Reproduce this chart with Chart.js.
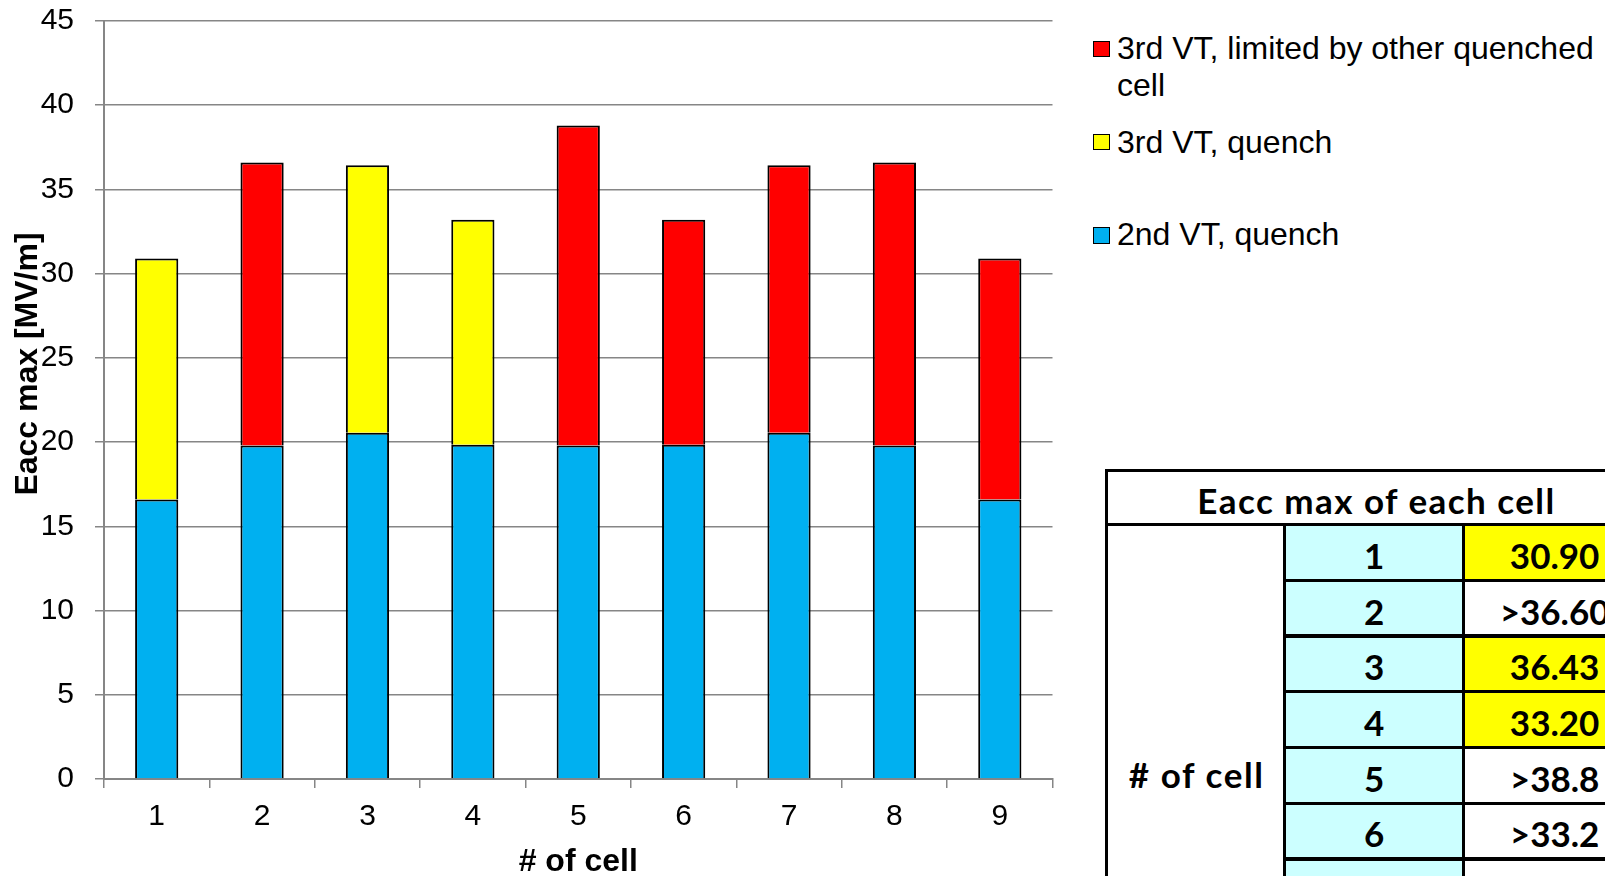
<!DOCTYPE html>
<html><head><meta charset="utf-8">
<script src="https://cdn.jsdelivr.net/npm/chart.js@4.4.0/dist/chart.umd.min.js"></script>
<style>
html,body{margin:0;padding:0;background:#fff;width:1605px;height:876px;overflow:hidden;position:relative;}
#wrap{position:absolute;left:0;top:0;width:1070px;height:876px;}
.lg{position:absolute;left:1117px;font-family:'Liberation Sans',Arial,sans-serif;font-size:32px;line-height:37.4px;color:#000;width:488px;white-space:normal;}
.lgbox{position:absolute;left:1093px;width:14.5px;height:14.5px;border:1.5px solid #000;}
.tl{position:absolute;background:#000;}
.tf{position:absolute;}
.tt{position:absolute;font-family:Lato,'Noto Sans',sans-serif;font-weight:bold;font-size:35px;line-height:1.2;color:#000;text-align:center;white-space:nowrap;}
</style></head><body>
<div id="wrap"><canvas id="c"></canvas></div>
<div id="legend"></div>
<div id="table"></div>
<script>
// ---- data ----
const categories = ['1','2','3','4','5','6','7','8','9'];
const blueVals   = [16.6, 19.8, 20.55, 19.85, 19.8, 19.85, 20.55, 19.8, 16.6];
const yellowVals = [14.3, null, 15.88, 13.35, null, null, null, null, null];
const redVals    = [null, 16.8, null, null, 19.0, 13.35, 15.88, 16.8, 14.3];
const seriesLabels = ['2nd VT, quench', '3rd VT, quench', '3rd VT, limited by other quenched cell'];
const yMin = 0, yMax = 45, yStep = 5;
const xTitle = '# of cell';
const yTitle = 'Eacc max [MV/m]';
const tableTitle = 'Eacc max of each cell';
const tableRowHeader = '# of cell';
const tableCells  = ['1','2','3','4','5','6','7','8','9'];
const tableValues = ['30.90','>36.60','36.43','33.20','>38.8','>33.2','>36.4','>36.6','>30.9'];
const tableYellow = [true,false,true,true,false,false,false,false,false];

// ---- styles ----
const colors = ['#00B0F0','#FFFF00','#FF0000'];
const FONT = "'Liberation Sans', Arial, sans-serif";
Chart.defaults.font.family = FONT;
Chart.defaults.color = '#000';

const yTitlePlugin = {
  id: 'ytitle',
  afterDraw(chart) {
    const ctx = chart.ctx;
    ctx.save();
    ctx.translate(28, 364);
    ctx.rotate(-Math.PI / 2);
    ctx.font = 'bold 32px ' + FONT;
    ctx.fillStyle = '#000';
    ctx.textAlign = 'center';
    ctx.textBaseline = 'middle';
    ctx.fillText(yTitle, 0, 0);
    ctx.restore();
  }
};

const mk = (i, data) => ({
  label: seriesLabels[i], data, backgroundColor: colors[i], borderColor: '#000',
  borderWidth: 2, barPercentage: 0.41, categoryPercentage: 1.0, stack: 's'
});

new Chart(document.getElementById('c'), {
  type: 'bar',
  data: { labels: categories, datasets: [mk(0, blueVals), mk(1, yellowVals), mk(2, redVals)] },
  options: {
    responsive: true, maintainAspectRatio: false, animation: false,
    layout: { padding: { top: 21, right: 17.5, left: 0, bottom: 0 } },
    plugins: { legend: { display: false }, tooltip: { enabled: false } },
    scales: {
      x: {
        stacked: true,
        grid: { drawOnChartArea: false, drawTicks: true, tickLength: 9, color: '#868686', lineWidth: 1.5, offset: true },
        border: { display: true, color: '#868686', width: 2 },
        ticks: { font: { size: 30 }, padding: 11, color: '#000' },
        title: { display: true, text: xTitle, font: { size: 32, weight: 'bold', lineHeight: 0.85 }, padding: 0, color: '#000' },
        afterFit(s) { s.height = 97; }
      },
      y: {
        stacked: true, min: yMin, max: yMax,
        grid: { color: '#868686', lineWidth: 1.5, tickLength: 9 },
        border: { display: true, color: '#868686', width: 2 },
        ticks: { stepSize: yStep, font: { size: 30 }, padding: 21, color: '#000' },
        afterFit(s) { s.width = 104; s.paddingTop = 0; s.paddingBottom = 0; }
      }
    }
  },
  plugins: [yTitlePlugin]
});

// ---- legend (HTML, reverse order) ----
const lg = document.getElementById('legend');
const lgTops = [216, 123.5, 29.5];
const lgBoxTops = [227, 133.5, 40.5];
[2, 1, 0].forEach(i => {
  const b = document.createElement('div');
  b.className = 'lgbox'; b.style.top = lgBoxTops[i] + 'px'; b.style.background = colors[i];
  lg.appendChild(b);
  const t = document.createElement('div');
  t.className = 'lg'; t.style.top = lgTops[i] + 'px'; t.textContent = seriesLabels[i];
  lg.appendChild(t);
});

// ---- table ----
const tb = document.getElementById('table');
function box(cls, x, y, w, h, bg) {
  const d = document.createElement('div');
  d.className = cls;
  Object.assign(d.style, { left: x + 'px', top: y + 'px', width: w + 'px', height: h + 'px' });
  if (bg) d.style.background = bg;
  tb.appendChild(d); return d;
}
function text(str, cx, capCy, w, ls) {
  const d = document.createElement('div');
  d.className = 'tt'; d.textContent = str;
  Object.assign(d.style, { left: (cx - w / 2) + 'px', width: w + 'px', top: (capCy - 0.629 * 35) + 'px' });
  if (ls) d.style.letterSpacing = ls + 'px';
  tb.appendChild(d);
}
const TX = 1105, TY = 468.5, LW = 3.2, RH = 55.74;
const C1 = 1283, C2 = 1462, TR = 1644;
const HB = 523;
const nRows = tableCells.length;
// fills
for (let k = 0; k < nRows; k++) {
  const y0 = HB + LW + RH * k;
  box('tf', C1 + LW, y0, C2 - C1 - LW, RH - LW, '#CCFFFF');
  if (tableYellow[k]) box('tf', C2 + LW, y0, TR - C2 - LW, RH - LW, '#FFFF00');
}
// lines
box('tl', TX, TY, TR - TX, LW);
box('tl', TX, HB, TR - TX, LW);
box('tl', TX, TY, LW, 1100);
box('tl', C1, HB, LW, 1100);
box('tl', C2, HB, LW, 1100);
for (let k = 1; k <= nRows; k++) box('tl', C1, HB + RH * k, TR - C1, LW);
// texts
text(tableTitle, (TX + TR) / 2 + 2, 500.8, 520, 1.45);
text(tableRowHeader, (TX + LW + C1) / 2 + 1, 775, 178, 1.6);
for (let k = 0; k < nRows; k++) {
  const cy = 555.8 + RH * k;
  text(tableCells[k], (C1 + LW + C2) / 2, cy, 170);
  text(tableValues[k], (C2 + LW + TR) / 2, cy, 180);
}
</script>
</body></html>
